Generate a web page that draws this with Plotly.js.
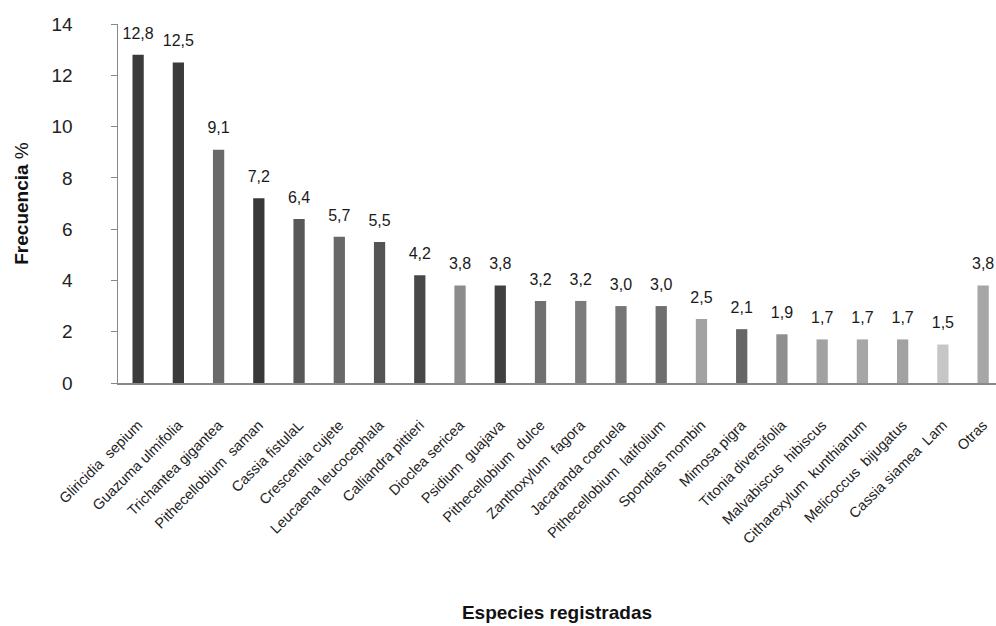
<!DOCTYPE html>
<html>
<head>
<meta charset="utf-8">
<script src="https://cdn.plot.ly/plotly-3.0.1.min.js"></script>
<style>html,body{margin:0;padding:0;background:#fff;}#chart{width:996px;height:626px;}</style>
</head>
<body>
<div id="chart"></div>
<script>
const species = [
  "Gliricidia  sepium", "Guazuma ulmifolia", "Trichantea gigantea", "Pithecellobium  saman",
  "Cassia fistulaL", "Crescentia cujete", "Leucaena leucocephala", "Calliandra pittieri",
  "Dioclea sericea", "Psidium  guajava", "Pithecellobium  dulce", "Zanthoxylum  fagora",
  "Jacaranda coeruela", "Pithecellobium  latifolium", "Spondias mombin", "Mimosa pigra",
  "Titonia diversifolia", "Malvabiscus  hibiscus", "Citharexylum  kunthianum",
  "Melicoccus  bijugatus", "Cassia siamea  Lam", "Otras"
];
const frecuencia = [12.8, 12.5, 9.1, 7.2, 6.4, 5.7, 5.5, 4.2, 3.8, 3.8, 3.2, 3.2, 3.0, 3.0, 2.5, 2.1, 1.9, 1.7, 1.7, 1.7, 1.5, 3.8];
const barColors = [
  "#3b3b3b", "#3b3b3b", "#6a6a6a", "#383838", "#585858", "#686868", "#555555", "#484848",
  "#8c8c8c", "#404040", "#707070", "#7c7c7c", "#767676", "#6e6e6e", "#a2a2a2", "#666666",
  "#8f8f8f", "#a2a2a2", "#a6a6a6", "#a2a2a2", "#c6c6c6", "#a6a6a6"
];
const yTicks = [0, 2, 4, 6, 8, 10, 12, 14];

const narrow = "Liberation Sans Narrow, Arial Narrow, Liberation Sans, Arial, sans-serif";
const labels = frecuencia.map(v => v.toFixed(1).replace('.', ','));

const bars = {
  type: 'bar',
  x: species,
  y: frecuencia,
  width: 0.28,
  marker: {color: barColors, line: {width: 0}},
  hoverinfo: 'x+y'
};

const valueLabels = {
  type: 'scatter',
  mode: 'markers+text',
  x: species,
  y: frecuencia,
  text: labels,
  textposition: 'top center',
  marker: {size: 18, color: 'rgba(0,0,0,0)'},
  cliponaxis: false,
  textfont: {family: narrow, size: 16, color: '#1a1a1a'},
  hoverinfo: 'skip'
};

const layout = {
  width: 996, height: 626,
  margin: {l: 118, r: 0, t: 24, b: 243},
  paper_bgcolor: '#fff', plot_bgcolor: '#fff',
  showlegend: false,
  xaxis: {
    type: 'category',
    range: [-0.5, 21.32],
    showline: true, linecolor: '#888', linewidth: 2,
    ticks: '', tickangle: -45,
    ticklabelstandoff: 26,
    tickfont: {family: 'Liberation Sans, Arial, sans-serif', size: 14.5, color: '#222'},
    title: {text: '<b>Especies registradas</b>', font: {family: narrow, size: 19, color: '#111'}, standoff: 60},
    automargin: false
  },
  yaxis: {
    range: [0, 14],
    tickvals: yTicks,
    showgrid: false, zeroline: false,
    showline: true, linecolor: '#888', linewidth: 1.5,
    ticks: 'outside', ticklen: 6, tickcolor: '#888',
    ticklabelstandoff: 34,
    tickfont: {family: 'Liberation Sans, Arial, sans-serif', size: 19, color: '#222'},
    title: {text: '<b>Frecuencia</b> %', font: {family: narrow, size: 19, color: '#111'}, standoff: 18},
    automargin: false
  }
};

Plotly.newPlot('chart', [bars, valueLabels], layout, {displayModeBar: false, staticPlot: true});
</script>
</body>
</html>
